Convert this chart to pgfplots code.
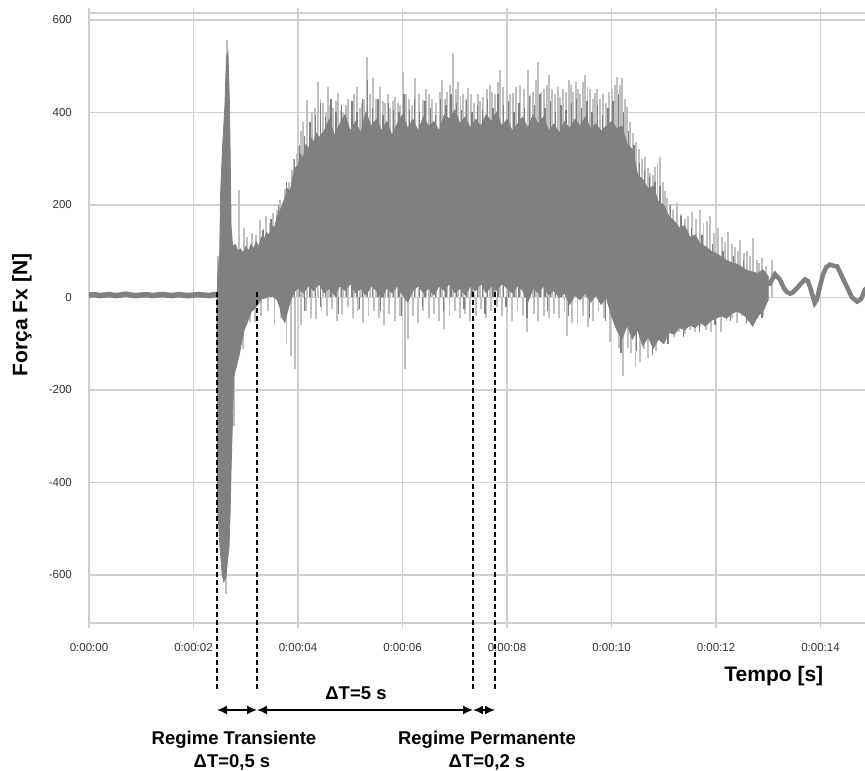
\documentclass[border=0pt]{standalone}
\usepackage{fontspec}
\setmainfont{Liberation Sans}
\usepackage{pgfplots}
\pgfplotsset{compat=1.18}
\usetikzlibrary{arrows.meta}
\definecolor{darkbody}{HTML}{808080}
\definecolor{lightspk}{HTML}{C0C0C0}
\definecolor{gridc}{HTML}{D0D0D0}
\begin{document}
\begin{tikzpicture}[x=1pt,y=1pt]
\begin{axis}[
  at={(89pt,148pt)}, anchor=south west,
  width=780pt, height=610pt, scale only axis,
  xmin=0, xmax=14.928, ymin=-704, ymax=615,
  xtick={0,2,4,6,8,10,12,14},
  xticklabels={0:00:00,0:00:02,0:00:04,0:00:06,0:00:08,0:00:10,0:00:12,0:00:14},
  ytick={-600,-400,-200,0,200,400,600},
  yticklabels={-600,-400,-200,0,200,400,600},
  grid=major,
  major grid style={gridc, line width=1.3pt},
  axis line style={gridc, line width=1.3pt},
  tick align=outside,
  major tick length=5pt,
  x tick style={gridc, line width=1.3pt},
  y tick style={draw=none},
  tick label style={font=\fontsize{11.5}{13}\selectfont, text=black!80},
  xticklabel style={anchor=base, yshift=-24pt},
  yticklabel style={anchor=east, inner sep=0pt, xshift=-12pt},
  xlabel={Tempo [s]},
  xlabel style={at={(axis description cs:0.878,-0.0967)}, anchor=base, font=\fontsize{21}{24}\selectfont\bfseries},
  ylabel={Força Fx [N]},
  ylabel style={at={(axis description cs:-0.0859,0.505)}, anchor=center, font=\fontsize{21}{24}\selectfont\bfseries},
]
% light gray spikes (upper and lower extremes of the signal)
\addplot[ycomb, lightspk, line width=1.9pt, mark=none] coordinates {
(2.47,90) (2.50,-460) (2.62,-641) (2.645,556) (2.70,-420) (2.77,-278) (2.81,-140) (2.85,-119) (2.87,233) (2.95,-112) (2.96,150) (3.03,130) (3.08,-54) (3.12,140) (3.18,-54) (3.20,135) (3.27,168) (3.30,-40) (3.34,150) (3.39,175) (3.42,-30) (3.46,160) (3.52,183) (3.55,-60) (3.59,190) (3.66,211) (3.68,-45) (3.72,205) (3.75,235) (3.78,-100) (3.82,250) (3.86,-127) (3.88,276) (3.92,300) (3.95,-155) (3.98,310) (4.00,326) (4.05,-60) (4.06,360) (4.10,380) (4.15,-30) (4.17,427) (4.22,370) (4.25,-45) (4.27,400) (4.33,410) (4.35,-47) (4.38,466) (4.43,430) (4.45,-30) (4.48,420) (4.53,400) (4.55,-40) (4.57,455) (4.62,415) (4.65,-25) (4.67,410) (4.72,425) (4.75,-50) (4.77,442) (4.82,405) (4.85,-35) (4.86,400) (4.91,415) (4.95,-20) (4.96,430) (5.03,415) (5.05,-45) (5.08,440) (5.13,455) (5.15,-30) (5.18,410) (5.22,420) (5.25,-55) (5.27,430) (5.32,520) (5.35,-40) (5.38,440) (5.44,474) (5.45,-30) (5.50,430) (5.55,-45) (5.57,455) (5.62,425) (5.65,-60) (5.67,420) (5.72,440) (5.75,-35) (5.76,410) (5.81,425) (5.85,-50) (5.86,434) (5.91,420) (5.95,415) (5.96,-40) (6.01,487) (6.04,-155) (6.07,440) (6.10,-90) (6.12,430) (6.18,415) (6.20,-40) (6.24,474) (6.30,-55) (6.32,440) (6.39,427) (6.40,-30) (6.45,450) (6.50,-45) (6.51,440) (6.57,430) (6.60,-35) (6.64,420) (6.70,-50) (6.71,445) (6.76,470) (6.80,-69) (6.81,430) (6.85,445) (6.90,-40) (6.91,460) (6.97,528) (7.00,-30) (7.02,450) (7.06,466) (7.10,-45) (7.11,435) (7.16,440) (7.20,-35) (7.21,430) (7.25,453) (7.30,-50) (7.31,440) (7.37,420) (7.40,-40) (7.44,440) (7.49,425) (7.50,-25) (7.54,434) (7.60,-45) (7.61,450) (7.67,460) (7.70,-30) (7.72,445) (7.77,440) (7.80,-20) (7.82,465) (7.87,492) (7.90,-40) (7.93,455) (8.00,450) (8.01,-35) (8.05,440) (8.10,-50) (8.11,442) (8.18,455) (8.20,-30) (8.25,460) (8.30,-40) (8.33,450) (8.38,-75) (8.40,492) (8.45,440) (8.50,445) (8.51,-35) (8.55,470) (8.59,509) (8.60,-50) (8.65,445) (8.70,-40) (8.71,450) (8.76,460) (8.80,481) (8.81,-45) (8.86,450) (8.90,-35) (8.92,440) (8.97,455) (9.00,-45) (9.01,434) (9.07,450) (9.10,-30) (9.13,445) (9.15,-84) (9.18,470) (9.22,460) (9.25,-55) (9.27,445) (9.32,466) (9.35,-60) (9.36,450) (9.40,440) (9.45,-40) (9.46,465) (9.49,481) (9.54,455) (9.55,-65) (9.59,450) (9.64,430) (9.65,-50) (9.68,442) (9.73,450) (9.75,-30) (9.78,430) (9.84,440) (9.85,-45) (9.89,420) (9.95,445) (9.97,-97) (10.01,450) (10.06,460) (10.07,-60) (10.11,477) (10.15,-110) (10.16,460) (10.20,474) (10.22,-170) (10.25,430) (10.30,412) (10.31,-110) (10.36,380) (10.38,-120) (10.41,356) (10.46,-150) (10.47,335) (10.53,320) (10.54,-140) (10.58,300) (10.62,-112) (10.64,304) (10.69,280) (10.70,-130) (10.74,270) (10.78,-100) (10.79,265) (10.83,283) (10.86,-115) (10.88,290) (10.93,304) (10.94,-90) (10.98,250) (11.02,230) (11.03,-95) (11.07,215) (11.10,-80) (11.12,200) (11.18,190) (11.20,-85) (11.25,205) (11.30,-75) (11.33,180) (11.40,-80) (11.41,170) (11.47,175) (11.50,-70) (11.54,185) (11.60,-75) (11.62,170) (11.69,190) (11.70,-65) (11.76,160) (11.80,-70) (11.83,165) (11.89,175) (11.90,-75) (11.96,140) (12.00,-55) (12.04,150) (12.10,-75) (12.12,130) (12.17,120) (12.20,-50) (12.23,142) (12.30,-45) (12.31,115) (12.36,110) (12.40,-55) (12.42,100) (12.46,125) (12.50,-40) (12.53,95) (12.59,100) (12.60,-50) (12.65,90) (12.70,-62) (12.71,129) (12.78,80) (12.80,-45) (12.83,75) (12.88,86) (12.90,-40) (12.95,67) (13.07,80)
};
% dark streaks reaching above / below the dark core
\addplot[ycomb, darkbody, line width=1.4pt, mark=none] coordinates {
(3.33,145) (3.48,170) (3.63,200) (3.78,250) (3.93,300) (4.03,330) (4.13,350) (4.23,380) (4.33,395) (4.43,420) (4.53,390) (4.63,430) (4.73,400) (4.83,415) (4.93,385) (5.03,425) (5.13,400) (5.23,430) (5.33,470) (5.43,410) (5.53,430) (5.63,395) (5.73,420) (5.83,405) (5.93,400) (6.03,440) (6.13,405) (6.23,430) (6.33,400) (6.43,425) (6.53,410) (6.63,395) (6.73,430) (6.83,415) (6.93,440) (7.03,420) (7.13,405) (7.23,425) (7.33,400) (7.43,415) (7.53,405) (7.63,430) (7.73,410) (7.83,440) (7.93,415) (8.03,425) (8.13,400) (8.23,420) (8.33,410) (8.43,435) (8.53,415) (8.63,440) (8.73,410) (8.83,425) (8.93,400) (9.03,415) (9.13,405) (9.23,420) (9.33,430) (9.43,410) (9.53,425) (9.63,400) (9.73,415) (9.83,395) (9.93,410) (10.03,425) (10.13,440) (10.23,400) (10.33,360) (10.43,330) (10.53,290) (10.63,275) (10.73,260) (10.83,250) (10.93,240) (11.13,200) (11.33,175) (11.53,150) (11.73,135) (11.93,115) (12.13,100) (12.33,90) (12.53,80)
(4.13,-30) (4.43,-20) (4.78,-35) (5.18,-25) (5.58,-30) (5.98,-40) (6.38,-20) (6.78,-30) (7.18,-25) (7.58,-35) (7.98,-20) (8.38,-45) (8.78,-30) (9.18,-40) (9.58,-45) (9.88,-50) (10.18,-120) (10.48,-115) (10.78,-125) (11.08,-100) (11.38,-85) (11.68,-75) (11.98,-60) (12.28,-50) (12.58,-55) (12.88,-45)
};
% dark core: upper envelope forward, lower envelope backward
\addplot[darkbody, fill=darkbody, line width=0.8pt] coordinates {
(2.45,5) (2.47,60) (2.50,90) (2.52,230) (2.56,335) (2.60,412) (2.63,520) (2.66,530) (2.69,412) (2.72,153) (2.75,110) (2.80,115) (2.85,100) (2.90,105) (2.95,95) (3.00,110) (3.05,100) (3.10,115) (3.15,105) (3.20,120) (3.25,110) (3.30,130) (3.35,125) (3.40,140) (3.45,135) (3.50,155) (3.55,150) (3.60,175) (3.65,185) (3.70,200) (3.75,215) (3.80,235) (3.85,230) (3.90,260) (3.95,280) (4.00,285) (4.05,310) (4.10,300) (4.15,330) (4.20,320) (4.25,345) (4.30,335) (4.35,355) (4.40,345)
(4.5,360) (4.6,385) (4.7,350) (4.8,375) (4.9,395) (5.0,360) (5.1,380) (5.2,355) (5.3,400) (5.4,370) (5.5,385) (5.6,360) (5.7,380) (5.8,350) (5.9,375) (6.0,395) (6.1,365) (6.2,385) (6.3,360) (6.4,390) (6.5,370) (6.6,380) (6.7,360) (6.8,395) (6.9,385) (7.0,405) (7.1,375) (7.2,390) (7.3,365) (7.4,385) (7.5,370) (7.6,395) (7.7,380) (7.8,400) (7.9,370) (8.0,385) (8.1,360) (8.2,375) (8.3,390) (8.4,365) (8.5,395) (8.6,375) (8.7,390) (8.8,360) (8.9,375) (9.0,355) (9.1,380) (9.2,365) (9.3,385) (9.4,370) (9.5,390) (9.6,365) (9.7,375) (9.8,360) (9.9,370) (10.0,380) (10.1,365) (10.2,370) (10.3,330) (10.4,320) (10.5,265) (10.6,255) (10.7,235) (10.8,240) (10.9,205) (11.0,200) (11.1,175) (11.2,165) (11.3,150) (11.4,155) (11.5,130) (11.6,135) (11.7,115) (11.8,110) (11.9,100) (12.0,95) (12.1,88) (12.2,80) (12.3,75) (12.4,72) (12.5,65) (12.6,58) (12.7,55) (12.8,52) (12.9,60) (13.0,45)
(13.0,-5) (12.9,-30) (12.8,-40) (12.7,-62) (12.6,-45) (12.5,-35) (12.4,-30) (12.3,-35) (12.2,-45) (12.1,-40) (12.0,-45) (11.9,-50) (11.8,-62) (11.7,-55) (11.6,-65) (11.5,-60) (11.4,-70) (11.3,-65) (11.2,-80) (11.1,-75) (11.0,-100) (10.9,-90) (10.8,-110) (10.7,-85) (10.6,-105) (10.5,-70) (10.4,-90) (10.3,-60) (10.2,-90) (10.1,-70) (10.0,-40) (9.9,0) (9.8,-15) (9.7,5) (9.6,-10) (9.5,10) (9.4,-5) (9.3,5) (9.2,-15) (9.1,10) (9.0,0) (8.9,15) (8.8,5) (8.7,25) (8.6,10) (8.5,20) (8.4,-10) (8.3,15) (8.2,25) (8.1,10) (8.0,20) (7.9,30) (7.8,15) (7.7,25) (7.6,10) (7.5,30) (7.4,15) (7.3,25) (7.2,5) (7.1,20) (7.0,10) (6.9,30) (6.8,15) (6.7,25) (6.6,5) (6.5,20) (6.4,10) (6.3,25) (6.2,15) (6.1,-10) (6.0,5) (5.9,25) (5.8,10) (5.7,20) (5.6,0) (5.5,15) (5.4,25) (5.3,5) (5.2,20) (5.1,10) (5.0,30) (4.9,15) (4.8,25) (4.7,5) (4.6,20) (4.5,10) (4.4,30) (4.3,15) (4.2,25) (4.1,10) (4.0,20)
(3.95,15) (3.90,5) (3.85,-10) (3.80,-30) (3.75,-54) (3.70,-45) (3.65,-20) (3.60,-5) (3.50,5) (3.40,0) (3.30,-4) (3.20,-20) (3.10,-32) (3.03,-54) (2.97,-70) (2.92,-97) (2.87,-127) (2.82,-150) (2.77,-170) (2.75,-250) (2.72,-371) (2.70,-470) (2.68,-540) (2.65,-570) (2.62,-605) (2.58,-615) (2.55,-600) (2.50,-530) (2.46,-450) (2.45,0)
} -- cycle;
% quiet start
\addplot[darkbody, line width=5.5pt] coordinates {
(0,5) (0.1,6) (0.2,4) (0.3,5) (0.4,6) (0.5,4) (0.6,5) (0.7,7) (0.8,5) (0.9,4) (1.0,5) (1.1,6) (1.2,4) (1.3,5) (1.4,6) (1.5,5) (1.6,4) (1.7,6) (1.8,5) (1.9,4) (2.0,5) (2.1,6) (2.2,5) (2.3,4) (2.4,6) (2.45,5)
};
% slow decaying tail
\addplot[darkbody, line width=4.5pt] coordinates {
(12.9,30) (13.03,30) (13.13,50) (13.22,39) (13.30,20) (13.36,11) (13.42,8) (13.47,11) (13.55,20) (13.61,28) (13.70,39) (13.76,35) (13.80,22) (13.86,0) (13.89,-12) (13.93,-5) (13.99,24) (14.05,50) (14.11,65) (14.18,71) (14.26,68) (14.32,67) (14.37,55) (14.41,45) (14.51,22) (14.60,0) (14.70,-9) (14.76,-5) (14.79,0) (14.85,17) (14.93,25)
};
\end{axis}
% annotations
\begin{scope}[line width=1.1pt, dash pattern=on 5pt off 3pt]
\draw (217,479) -- (217,81);
\draw (257,479) -- (257,81);
\draw (473,479) -- (473,81);
\draw (495,479) -- (495,81);
\end{scope}
\begin{scope}[line width=1.6pt, {Latex[length=10pt,width=9pt]}-{Latex[length=10pt,width=9pt]}]
\draw (217,61) -- (257,61);
\draw (257,61) -- (473,61);
\draw (473,61) -- (495,61);
\end{scope}
\begin{scope}[font=\fontsize{18.5}{21}\selectfont\bfseries]
\node[anchor=base] at (356,71) {ΔT=5 s};
\node[anchor=base] at (234,26) {Regime Transiente};
\node[anchor=base] at (232,3) {ΔT=0,5 s};
\node[anchor=base] at (487,26) {Regime Permanente};
\node[anchor=base] at (487,3) {ΔT=0,2 s};
\end{scope}
\pgfresetboundingbox
\path[use as bounding box] (0,0) rectangle (865,771);
\end{tikzpicture}
\end{document}
